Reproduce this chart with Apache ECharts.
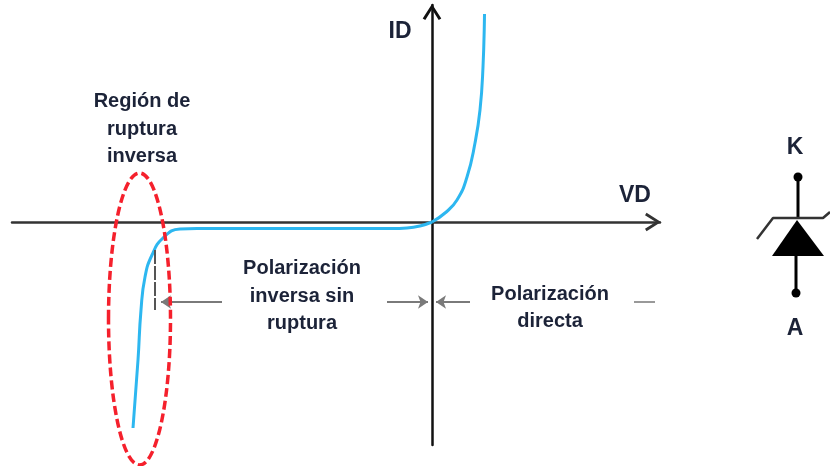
<!DOCTYPE html>
<html>
<head>
<meta charset="utf-8">
<style>
  html, body { margin: 0; padding: 0; background: #fff; }
  #chart { width: 830px; height: 466px; }
</style>
<script src="https://cdn.jsdelivr.net/npm/echarts@6/dist/echarts.min.js"></script>
</head>
<body>
<div id="chart"></div>
<script>
// diode curve, axis units are arbitrary (VD, ID), origin at the crossing
var forwardCurve = [[0, 0], [13, 9], [25, 22], [35, 45], [43, 79], [48, 112], [51, 155], [52.5, 208]];
var reverseCurve = [[-299, -206], [-294, -138], [-291, -88], [-287, -55], [-280, -33], [-269, -16], [-252, -7], [-235, -6.5], [-150, -6.5], [-40, -6.5], [-25, -6], [-12, -4], [0, 0]];

// region marked with the red ellipse: centre x, centre y, half width, half height
var breakdownRegion = [[-292.5, -97, 31, 146]];

// annotation arrows, from -> to
var arrowSpans = [
  [[-210, -80], [-271, -80]],
  [[-45, -80], [-4, -80]],
  [[38, -80], [4, -80]]
];
var restDash = [[202, -80], [223, -80]];
var limitDash = [[-277, -28], [-277, -88]];

var regionLabels = [
  { value: [-290, 93], name: 'Región de\nruptura\ninversa' },
  { value: [-130, -74], name: 'Polarización\ninversa sin\nruptura' },
  { value: [118, -86], name: 'Polarización\ndirecta' }
];
var axisNames = [
  { value: [-32, 190], name: 'ID' },
  { value: [203, 26], name: 'VD' }
];

// diode symbol, second grid
var stemK = [[58, 57], [58, 98]];
var stemA = [[56, 136], [56, 173]];
var gateBar = [[17, 119], [33, 98], [83, 98], [90, 92]];
var triangle = [[57, 100], [32, 136], [84, 136]];
var terminals = [[58, 57], [56, 173]];
var diodeLabels = [
  { value: [55, 28], name: 'K' },
  { value: [55, 209], name: 'A' }
];

var labelFont = 'Liberation Sans';
var textColor = '#1c2338';

function textSeries(data, xi, yi, size, lh) {
  return {
    type: 'scatter', data: data, xAxisIndex: xi, yAxisIndex: yi,
    symbolSize: 0, silent: true, clip: false, z: 10,
    itemStyle: { opacity: 1 },
    label: {
      show: true, position: 'inside', align: 'center', verticalAlign: 'middle',
      formatter: '{b}', color: textColor, fontFamily: labelFont,
      fontWeight: 'bold', fontSize: size, lineHeight: lh
    }
  };
}

function lineSeries(data, color, width, type, xi, yi, smooth) {
  return {
    type: 'line', data: data, xAxisIndex: xi || 0, yAxisIndex: yi || 0,
    showSymbol: false, silent: true, clip: false, smooth: smooth || false,
    lineStyle: { color: color, width: width, type: type || 'solid' }
  };
}

var chart = echarts.init(document.getElementById('chart'));
var chevron = 'path://M0,14 L9,0 L18,14 L15.5,15.5 L9,5 L2.5,15.5 Z';

chart.setOption({
  animation: false,
  backgroundColor: '#fff',
  grid: [
    { left: 12, top: 5, width: 648, height: 440 },
    { left: 740, top: 120, width: 90, height: 230 }
  ],
  xAxis: [
    {
      type: 'value', min: -420, max: 228, splitLine: { show: false },
      axisTick: { show: false }, axisLabel: { show: false },
      axisLine: {
        onZero: true, symbol: ['none', chevron], symbolSize: [19, 16], symbolOffset: [0, -7],
        lineStyle: { color: '#333', width: 2.5 }
      }
    },
    { type: 'value', gridIndex: 1, min: 0, max: 90, show: false }
  ],
  yAxis: [
    {
      type: 'value', min: -223, max: 217, splitLine: { show: false },
      axisTick: { show: false }, axisLabel: { show: false },
      axisLine: {
        onZero: true, symbol: ['none', chevron], symbolSize: [19, 16], symbolOffset: [0, -7],
        lineStyle: { color: '#111', width: 2.5 }
      }
    },
    { type: 'value', gridIndex: 1, min: 0, max: 230, inverse: true, show: false }
  ],
  series: [
    lineSeries(forwardCurve, '#2db7f0', 3, null, 0, 0, 0.5),
    lineSeries(reverseCurve, '#2db7f0', 3, null, 0, 0, 0.5),
    lineSeries(limitDash, '#555', 2, [14, 2]),
    lineSeries(restDash, '#999', 2),
    {
      type: 'line', data: [], silent: true,
      markLine: {
        silent: true, animation: false, symbol: ['none', 'arrow'], symbolSize: 10, label: { show: false },
        lineStyle: { color: '#7a7a7a', width: 2, type: 'solid' },
        data: arrowSpans.map(function (s) { return [{ coord: s[0] }, { coord: s[1] }]; })
      }
    },
    {
      type: 'custom', data: breakdownRegion, silent: true, clip: false, z: 5,
      renderItem: function (params, api) {
        var c = api.coord([api.value(0), api.value(1)]);
        var s = api.size([api.value(2), api.value(3)]);
        return {
          type: 'ellipse',
          shape: { cx: c[0], cy: c[1], rx: s[0], ry: s[1] },
          style: { fill: 'none', stroke: '#f5202c', lineWidth: 3.5, lineDash: [9, 4] }
        };
      },
      encode: { x: 0, y: 1 }
    },
    textSeries(regionLabels, 0, 0, 20, 27.5),
    textSeries(axisNames, 0, 0, 23, 26),

    lineSeries(stemK, '#000', 3, null, 1, 1),
    lineSeries(stemA, '#000', 3, null, 1, 1),
    lineSeries(gateBar, '#333', 2.5, null, 1, 1),
    {
      type: 'custom', data: [0], xAxisIndex: 1, yAxisIndex: 1, silent: true, clip: false,
      renderItem: function (params, api) {
        return {
          type: 'polygon',
          shape: { points: triangle.map(function (p) { return api.coord(p); }) },
          style: { fill: '#000' }
        };
      }
    },
    {
      type: 'scatter', data: terminals, xAxisIndex: 1, yAxisIndex: 1, silent: true,
      symbolSize: 9, itemStyle: { color: '#000', opacity: 1 }
    },
    textSeries(diodeLabels, 1, 1, 23, 26)
  ]
});
</script>
</body>
</html>
